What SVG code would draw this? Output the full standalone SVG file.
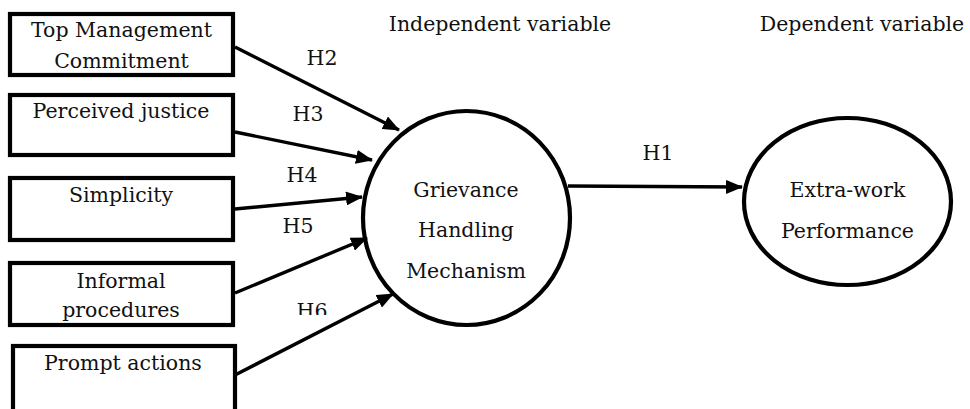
<svg xmlns="http://www.w3.org/2000/svg" width="970" height="409" viewBox="0 0 970 409">
  <style>
    text { font-family: "DejaVu Serif", "Liberation Serif", serif; font-size: 20.5px; fill: #111; }
    .c { text-anchor: middle; }
    .box { fill: #fff; stroke: #000; stroke-width: 4.2; }
    .ell { fill: #fff; stroke: #000; stroke-width: 4.2; }
    .arr { stroke: #000; stroke-width: 3.4; fill: none; marker-end: url(#ah); }
  </style>
  <defs>
    <marker id="ah" markerUnits="userSpaceOnUse" markerWidth="18" markerHeight="14" refX="16" refY="7" orient="auto">
      <path d="M0,0 L17,7 L0,14 z" fill="#000"/>
    </marker>
    <clipPath id="h6clip"><rect x="280" y="280" width="80" height="35"/></clipPath>
  </defs>
  <rect width="970" height="409" fill="#fff"/>

  <text x="500" y="31" class="c">Independent variable</text>
  <text x="862" y="31" class="c">Dependent variable</text>

  <g id="top-management">
    <rect class="box" x="10" y="14" width="223" height="61"/>
    <text x="121.5" y="37" class="c">Top Management</text>
    <text x="121.5" y="68" class="c">Commitment</text>
  </g>
  <g id="perceived-justice">
    <rect class="box" x="10" y="95" width="223" height="60"/>
    <text x="121" y="118" class="c">Perceived justice</text>
  </g>
  <g id="simplicity">
    <rect class="box" x="10" y="178" width="223" height="62"/>
    <text x="121" y="202" class="c">Simplicity</text>
  </g>
  <g id="informal-procedures">
    <rect class="box" x="10" y="263" width="223" height="62"/>
    <text x="121" y="288" class="c">Informal</text>
    <text x="121" y="317" class="c">procedures</text>
  </g>
  <g id="prompt-actions">
    <rect class="box" x="13" y="346" width="222" height="80"/>
    <text x="123" y="370" class="c">Prompt actions</text>
  </g>

  <g id="grievance">
    <ellipse class="ell" cx="466.5" cy="218" rx="103.5" ry="107"/>
    <text x="466" y="197" class="c">Grievance</text>
    <text x="466" y="237" class="c">Handling</text>
    <text x="466" y="278" class="c">Mechanism</text>
  </g>
  <g id="extra-work">
    <ellipse class="ell" cx="847.5" cy="201.5" rx="103.5" ry="83.5"/>
    <text x="847.5" y="197" class="c">Extra-work</text>
    <text x="847.5" y="238" class="c">Performance</text>
  </g>

  <g id="connectors">
    <line class="arr" x1="235" y1="47" x2="399" y2="130"/>
    <line class="arr" x1="235" y1="132" x2="372" y2="160"/>
    <line class="arr" x1="235" y1="209" x2="362" y2="197"/>
    <line class="arr" x1="235" y1="293" x2="367" y2="238"/>
    <line class="arr" x1="235" y1="375" x2="393" y2="294"/>
    <line class="arr" x1="568" y1="186" x2="742" y2="187"/>
    <text x="322" y="65" class="c">H2</text>
    <text x="308" y="121" class="c">H3</text>
    <text x="302" y="182" class="c">H4</text>
    <text x="298" y="233" class="c">H5</text>
    <text x="312" y="318" class="c" clip-path="url(#h6clip)">H6</text>
    <text x="658" y="160" class="c">H1</text>
  </g>
</svg>
